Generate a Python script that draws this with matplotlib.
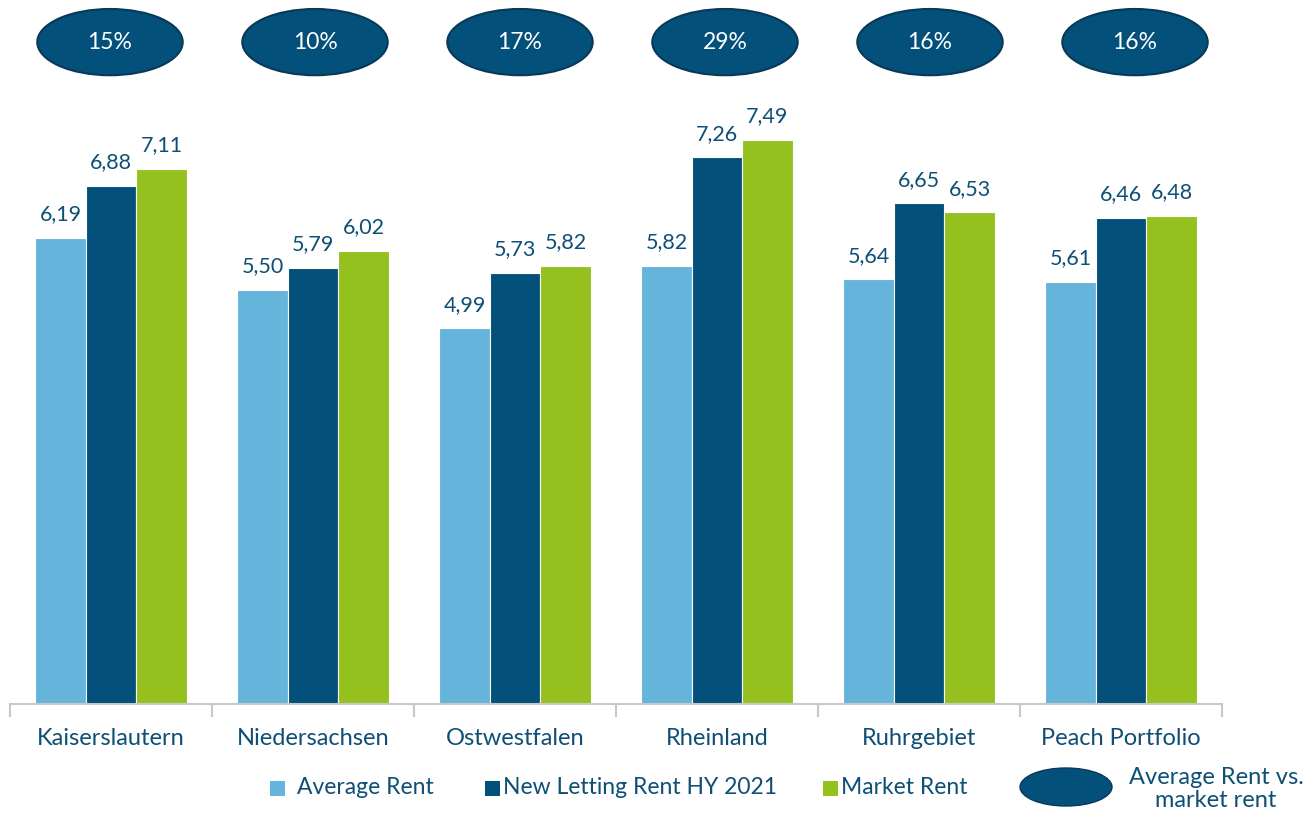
import matplotlib
matplotlib.use("Agg")
import matplotlib.pyplot as plt
from matplotlib.patches import Ellipse, Rectangle
import numpy as np

plt.rcParams['font.family'] = ['Lato', 'DejaVu Sans']

# data
regions = ['Kaiserslautern', 'Niedersachsen', 'Ostwestfalen', 'Rheinland',
           'Ruhrgebiet', 'Peach Portfolio']
avg_rent = [6.19, 5.50, 4.99, 5.82, 5.64, 5.61]
new_letting = [6.88, 5.79, 5.73, 7.26, 6.65, 6.46]
market_rent = [7.11, 6.02, 5.82, 7.49, 6.53, 6.48]
gap_pct = ['15%', '10%', '17%', '29%', '16%', '16%']
series_names = ['Average Rent', 'New Letting Rent HY 2021', 'Market Rent']

c_light = '#65b4dc'
c_dark = '#03507a'
c_green = '#95c11f'
c_text = '#0d4f75'

fig = plt.figure(figsize=(13.04, 8.14), dpi=100)
W, H = 1304, 814
ax = fig.add_axes([10 / W, (H - 704) / H, (1222 - 10) / W, 704 / H])

x = np.arange(len(regions))
bw = 0.25
series = [avg_rent, new_letting, market_rent]
colors = [c_light, c_dark, c_green]
for k, (vals, col) in enumerate(zip(series, colors)):
    pos = x + (k - 1) * bw
    ax.bar(pos, vals, width=bw, color=col, edgecolor='white', linewidth=0.8)
    for px, v in zip(pos, vals):
        ax.annotate(f'{v:.2f}'.replace('.', ','), (px, v), xytext=(0, 17),
                    textcoords='offset points', ha='center', va='center',
                    fontsize=15.5, color=c_text)

# percentage ellipses above each group (slightly wider spacing than the groups)
ell_x = -0.005 + x * 205 / 202
for px, lab in zip(ell_x, gap_pct):
    ax.add_patch(Ellipse((px, 8.79), 0.72, 0.88, facecolor=c_dark,
                         edgecolor='#083a58', linewidth=1.5, clip_on=False))
    ax.text(px, 8.79, lab, ha='center', va='center', fontsize=16.5, color='white')

ax.set_xlim(-0.5, len(regions) - 0.5)
ax.set_ylim(0, 704 / 75.3)
for s in ['top', 'right', 'left']:
    ax.spines[s].set_visible(False)
ax.spines['bottom'].set_color('#c8c8c8')
ax.spines['bottom'].set_linewidth(1.5)
ax.set_yticks([])
ax.set_xticks(x)
ax.set_xticklabels(regions, fontsize=17, color=c_text)
ax.tick_params(axis='x', which='major', length=0, pad=17)
ax.set_xticks(np.arange(len(regions) + 1) - 0.5, minor=True)
ax.tick_params(axis='x', which='minor', length=9, width=1.5, color='#c8c8c8')

# legend row
tf = fig.transFigure
sq = 15
legend_sq_x = [270, 485, 823]
legend_txt_x = [297, 503, 841]
for lx, tx, col, name in zip(legend_sq_x, legend_txt_x, colors, series_names):
    fig.add_artist(Rectangle((lx / W, (H - 788 - sq / 2) / H), sq / W, sq / H,
                             facecolor=col, edgecolor='none', transform=tf))
    fig.text(tx / W, (H - 788) / H, name, ha='left', va='center',
             fontsize=16.5, color=c_text)
fig.add_artist(Ellipse((1066 / W, (H - 787) / H), 92 / W, 38 / H,
                       facecolor=c_dark, edgecolor='#083a58', linewidth=1,
                       transform=tf))
fig.text(1216 / W, (H - 789) / H, 'Average Rent vs.\nmarket rent', ha='center',
         va='center', fontsize=17, color=c_text, linespacing=1.1)

fig.savefig('out.png', dpi=100)
